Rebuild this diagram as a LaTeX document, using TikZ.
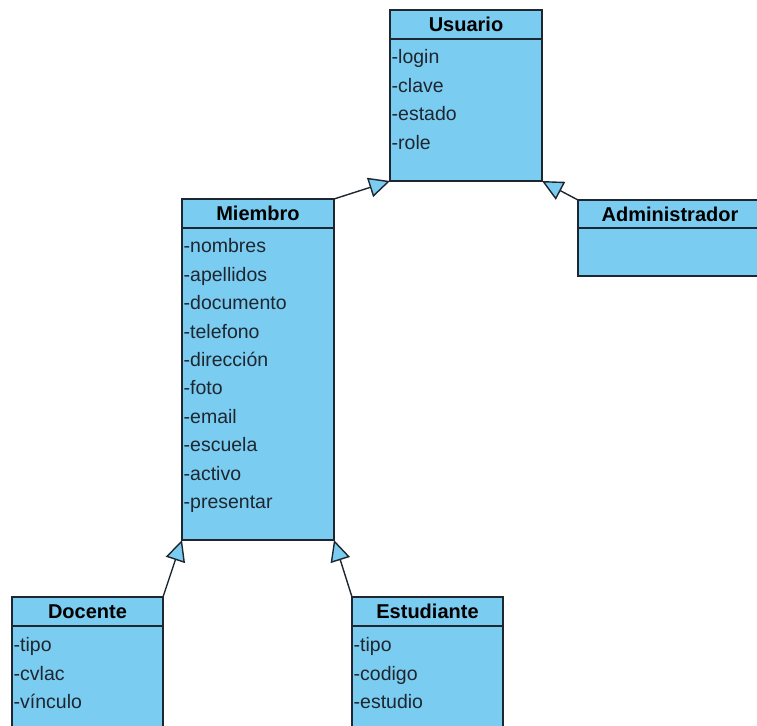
\documentclass[tikz,border=0pt]{standalone}
\usepackage{fontspec}
\setmainfont{Liberation Sans}
\usetikzlibrary{arrows.meta, positioning}
\definecolor{umlblue}{RGB}{122,204,240}
\definecolor{umlline}{RGB}{30,38,48}

\begin{document}
\begin{tikzpicture}[x=1pt, y=-1pt,
		classtitle/.style={draw=umlline, fill=umlblue, line width=1.4pt, outer sep=0pt, inner sep=0pt,
			minimum width=152pt, minimum height=29pt, anchor=north west,
			font=\fontsize{20}{20}\selectfont\bfseries},
		classbody/.style={draw=umlline, fill=umlblue, line width=1.4pt, outer sep=0pt, inner sep=0pt,
			minimum width=152pt},
		attrs/.style={align=left, inner sep=0pt, anchor=north west, text=umlline,
			font=\fontsize{19.5}{28.4}\selectfont},
		isa/.style={draw=umlline, line width=1.4pt, -{Triangle[length=21pt, width=20pt, fill=umlblue]}}]
		\useasboundingbox[fill=white] (0,0) rectangle (757,725);
		\clip (0,0) rectangle (757,725);
		
		% Usuario
		\node[classtitle] (usuario) at (390,10) {Usuario};
		\node[classbody, minimum height=142pt, below=0pt of usuario] (usuarioBody) {};
		\node[attrs] (usuarioAttrs) at ([xshift=1.5pt, yshift=-10.5pt]usuarioBody.north west) {-login\\-clave\\-estado\\-role};
		
		% Miembro
		\node[classtitle] (miembro) at (182,199) {Miembro};
		\node[classbody, minimum height=312pt, below=0pt of miembro] (miembroBody) {};
		\node[attrs] (miembroAttrs) at ([xshift=1.5pt, yshift=-10.5pt]miembroBody.north west)
			{-nombres\\-apellidos\\-documento\\-telefono\\-dirección\\-foto\\-email\\-escuela\\-activo\\-presentar};
		
		% Administrador
		\node[classtitle, minimum width=184pt, minimum height=28pt] (admin) at (578,200) {Administrador};
		\node[classbody, minimum width=184pt, minimum height=48pt, below=0pt of admin] (adminBody) {};
		
		% Docente
		\node[classtitle, minimum width=151pt] (docente) at (12,597) {Docente};
		\node[classbody, minimum width=151pt, minimum height=130pt, below=0pt of docente] (docenteBody) {};
		\node[attrs] (docenteAttrs) at ([xshift=1.5pt, yshift=-11.5pt]docenteBody.north west) {-tipo\\-cvlac\\-vínculo};
		
		% Estudiante
		\node[classtitle, minimum width=151pt] (estudiante) at (352,597) {Estudiante};
		\node[classbody, minimum width=151pt, minimum height=130pt, below=0pt of estudiante] (estudianteBody) {};
		\node[attrs] (estudianteAttrs) at ([xshift=1.5pt, yshift=-11.5pt]estudianteBody.north west) {-tipo\\-codigo\\-estudio};
		
		% generalizaciones
		\draw[isa] (miembro.north east) -- (usuarioBody.south west);
		\draw[isa] (admin.north west) -- (usuarioBody.south east);
		\draw[isa] (docente.north east) -- (miembroBody.south west);
		\draw[isa] (estudiante.north west) -- (miembroBody.south east);
	\end{tikzpicture}
\end{document}
